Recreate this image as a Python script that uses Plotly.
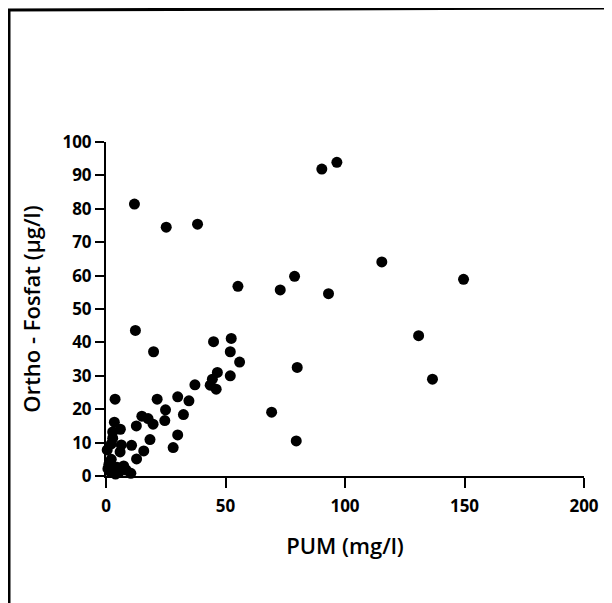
import plotly.graph_objects as go

# Data (PUM mg/l vs Ortho-Fosfat µg/l)
pum = [11.9, 25.2, 38.3, 90.3, 96.6, 115.4, 149.6, 78.9, 72.9, 93.1, 55.2, 130.8, 136.6, 80.0, 69.3, 79.6,
       12.3, 19.9, 45.0, 52.4, 52.0, 55.9, 46.6, 44.5, 43.6, 46.1, 52.0, 37.2, 34.7, 30.0, 21.4, 24.9, 32.4, 24.6, 30.0, 28.1,
       15.0, 17.6, 19.7, 12.7, 18.4, 15.8, 12.8, 10.7,
       3.8, 3.5, 6.0, 2.8, 2.8, 6.4, 2.2, 0.5, 5.9, 2.2,
       0.8, 1.8, 2.8, 3.6, 4.6, 5.5, 6.5, 7.4, 8.4, 10.4, 1.2, 4.0]
fosfat = [81.4, 74.5, 75.4, 91.9, 93.9, 64.1, 58.9, 59.8, 55.7, 54.6, 56.8, 42.0, 29.0, 32.5, 19.1, 10.5,
          43.6, 37.2, 40.2, 41.2, 37.2, 34.1, 31.0, 29.0, 27.2, 26.0, 30.0, 27.3, 22.5, 23.7, 23.0, 19.8, 18.4, 16.6, 12.3, 8.5,
          17.9, 17.2, 15.5, 15.0, 10.9, 7.5, 5.1, 9.2,
          23.0, 16.1, 14.0, 13.2, 11.3, 9.3, 9.6, 7.8, 7.2, 5.0,
          2.2, 1.3, 2.8, 1.5, 2.6, 1.2, 2.3, 3.0, 1.8, 0.8, 3.5, 0.6]

x_ticks = [0, 50, 100, 150, 200]
y_ticks = [0, 10, 20, 30, 40, 50, 60, 70, 80, 90, 100]

# the page has an 8px body margin, so the figure is placed at (8, 8)
OFF = 8
W, H = 612 - OFF, 603 - OFF
ML, MT = 106 - OFF, 142 - OFF
PW, PH = 478, 334
MR, MB = W - ML - PW, H - MT - PH

def px(page_x):
    return (page_x - OFF - ML) / PW

def py(page_y):
    return (MT + PH - (page_y - OFF)) / PH

FONT = "Open Sans"

fig = go.Figure()
fig.add_trace(go.Scatter(
    x=pum, y=fosfat, mode="markers",
    marker=dict(color="black", size=11, line=dict(width=0)),
    cliponaxis=False, showlegend=False,
))

axis_common = dict(
    showgrid=False, zeroline=False, showline=True, linecolor="black", linewidth=2,
    ticks="outside", tickwidth=2, tickcolor="black",
    tickfont=dict(family=FONT, size=17, color="black", weight=700),
)

fig.update_xaxes(range=[0, 200], tickvals=x_ticks, ticktext=[str(v) for v in x_ticks],
                 ticklen=10, ticklabelstandoff=4,
                 title=dict(text="PUM (mg/l)", font=dict(family=FONT, size=22, color="black", weight=600), standoff=22),
                 **axis_common)
fig.update_yaxes(range=[0, 100], tickvals=y_ticks, ticktext=[str(v) for v in y_ticks],
                 ticklen=9,
                 title=dict(text="Ortho - Fosfat (µg/l)", font=dict(family=FONT, size=22, color="black", weight=600), standoff=16),
                 **axis_common)

# scanned frame (left and top border)
fig.add_shape(type="line", xref="paper", yref="paper", x0=px(9), x1=px(9), y0=py(9), y1=py(603),
              line=dict(color="black", width=3))
fig.add_shape(type="line", xref="paper", yref="paper", x0=px(8), x1=px(612), y0=py(10), y1=py(8),
              line=dict(color="black", width=3))

fig.update_layout(
    width=W, height=H, margin=dict(l=ML, r=MR, t=MT, b=MB),
    paper_bgcolor="white", plot_bgcolor="white",
)

fig.write_html("out.html")
